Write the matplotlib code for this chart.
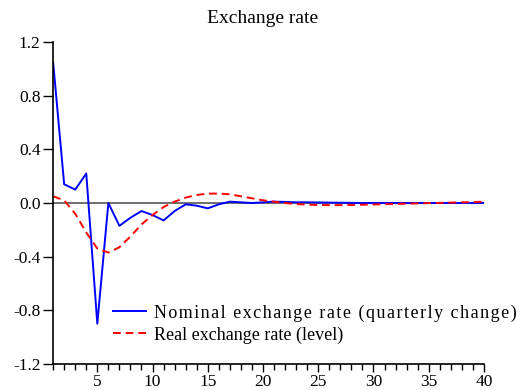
import numpy as np
import matplotlib.pyplot as plt
from matplotlib.ticker import MultipleLocator, FixedLocator

plt.rcParams['font.family'] = ['Liberation Serif', 'DejaVu Serif']
plt.rcParams['axes.unicode_minus'] = False

# quarters after the shock
quarters = np.arange(1, 41)

# nominal exchange rate, quarterly change
nominal = [1.05, 0.14, 0.10, 0.22, -0.90, 0.00, -0.17, -0.11, -0.06, -0.09,
           -0.13, -0.06, -0.01, -0.02, -0.04, -0.01, 0.01, 0.005, 0.0, 0.005,
           0.01, 0.008, 0.005, 0.005, 0.004, 0.003, 0.002, 0.001, 0.0, 0.0,
           0.0, 0.0, 0.0, 0.0, 0.0, 0.0, 0.0, 0.0, 0.0, 0.0]

# real exchange rate, level
real = [0.05, 0.02, -0.08, -0.22, -0.34, -0.37, -0.33, -0.25, -0.16, -0.09,
        -0.03, 0.01, 0.04, 0.06, 0.07, 0.07, 0.065, 0.05, 0.035, 0.02,
        0.01, 0.0, -0.008, -0.012, -0.015, -0.016, -0.016, -0.015, -0.013, -0.011,
        -0.009, -0.007, -0.005, -0.003, -0.001, 0.001, 0.003, 0.005, 0.007, 0.01]

yticks = [-1.2, -0.8, -0.4, 0.0, 0.4, 0.8, 1.2]
ytick_labels = ['-1.2', '-0.8', '-0.4', '0.0', '0.4', '0.8', '1.2']

# the reference spreads the letters of this label out a little
nominal_label = '\u200a'.join('Nominal exchange rate (quarterly change)')

fig = plt.figure(figsize=(5.26, 3.9), dpi=100)
ax = fig.add_axes([0.101, 0.067, 0.819, 0.825])

ax.axhline(0, color='#555555', linewidth=1.2, zorder=1)
ax.plot(quarters, nominal, color='#0000ff', linewidth=1.4, label=nominal_label)
ax.plot(quarters, real, color='#ff0000', linewidth=1.4, linestyle=(0, (4, 2.5)),
        label='Real exchange rate (level)')

ax.set_xlim(1, 40)
ax.set_ylim(-1.2, 1.2)
ax.yaxis.set_major_locator(FixedLocator(yticks))
ax.set_yticklabels(ytick_labels)
ax.xaxis.set_major_locator(MultipleLocator(5))
ax.xaxis.set_minor_locator(MultipleLocator(1))

for side in ['top', 'right']:
    ax.spines[side].set_visible(False)
for side in ['left', 'bottom']:
    ax.spines[side].set_linewidth(1.2)

ax.tick_params(axis='both', which='major', direction='out', length=7, width=1.0,
               labelsize=12.5, color='black')
ax.tick_params(axis='x', which='major', length=6, pad=1)
ax.tick_params(axis='x', which='minor', direction='out', length=4, width=1.0)
ax.tick_params(axis='y', which='major', pad=2)

fig.text(0.5, 0.94, 'Exchange rate', ha='center', va='baseline', fontsize=14)

ax.legend(loc='center left', bbox_to_anchor=(0.139, 0.124), frameon=False,
          fontsize=13, handlelength=1.8, handletextpad=0.45, labelspacing=0.25,
          borderaxespad=0, borderpad=0)

plt.savefig('out.png', dpi=100)
